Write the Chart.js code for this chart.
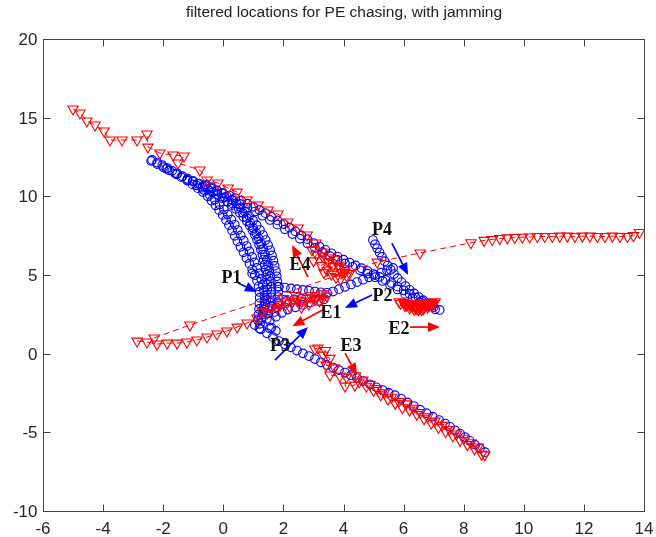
<!DOCTYPE html>
<html>
<head>
<meta charset="utf-8">
<script src="https://cdn.jsdelivr.net/npm/chart.js@4.4.1/dist/chart.umd.min.js"></script>
<style>
  html, body { margin: 0; padding: 0; background: #fff; }
  #chart { display: block; }
</style>
</head>
<body>
<canvas id="chart" width="656" height="537"></canvas>
<script>
// ==================== Data ====================
const titleText = "filtered locations for PE chasing, with jamming";
const xTicks = [-6, -4, -2, 0, 2, 4, 6, 8, 10, 12, 14];
const yTicks = [-10, -5, 0, 5, 10, 15, 20];

// pursuers (blue circles)
const p1Left = [[-2.40,12.25],[-2.2,12.05],[-2.0,11.85],[-1.8,11.65],[-1.6,11.45],[-1.4,11.22],[-1.2,11.0],[-1.02,10.76],[-0.85,10.52],[-0.68,10.27],[-0.52,10.0],[-0.39,9.72],[-0.26,9.43],[-0.14,9.13],[-0.02,8.82],[0.09,8.5],[0.19,8.17],[0.29,7.83],[0.38,7.49],[0.47,7.14],[0.57,6.79],[0.67,6.44],[0.77,6.08],[0.87,5.72],[0.96,5.36],[1.05,5.0],[1.12,4.64],[1.17,4.28],[1.2,3.92],[1.21,3.56],[1.2,3.2],[1.19,2.84],[1.17,2.48],[1.15,2.12]];
const p1InnerL = [[-1.9,11.75],[-1.55,11.4],[-1.2,11.05],[-0.9,10.7],[-0.65,10.4],[-0.45,10.1],[-0.28,9.8],[-0.12,9.48],[0.02,9.16],[0.15,8.84],[0.27,8.52],[0.38,8.19],[0.48,7.86],[0.58,7.52],[0.68,7.18],[0.78,6.84],[0.87,6.5],[0.96,6.15],[1.04,5.8],[1.12,5.45],[1.2,5.1],[1.26,4.75],[1.31,4.4],[1.35,4.05],[1.37,3.7],[1.37,3.35],[1.35,3.0],[1.32,2.65],[1.28,2.3]];
const p1Mid = [[-2.37,12.31],[-2.20,12.15],[-2.03,11.98],[-1.86,11.80],[-1.70,11.62],[-1.53,11.45],[-1.36,11.28],[-1.19,11.12],[-1.02,10.96],[-0.85,10.80],[-0.68,10.63],[-0.51,10.46],[-0.34,10.28],[-0.18,10.08],[-0.02,9.88],[0.14,9.66],[0.28,9.44],[0.42,9.20],[0.55,8.96],[0.67,8.70],[0.78,8.43],[0.88,8.15],[0.97,7.86],[1.05,7.56],[1.12,7.25],[1.19,6.94],[1.25,6.62],[1.30,6.30],[1.34,5.98],[1.38,5.66],[1.41,5.34],[1.43,5.02],[1.45,4.70],[1.46,4.38],[1.46,4.06],[1.45,3.74],[1.43,3.42],[1.40,3.10],[1.36,2.80],[1.31,2.50],[1.26,2.20],[1.22,1.90],[1.20,1.60]];
const p1InnerR = [[0.3,9.55],[0.5,9.25],[0.65,8.95],[0.78,8.62],[0.9,8.3],[1.0,7.98],[1.1,7.65],[1.18,7.32],[1.26,6.98],[1.33,6.64],[1.39,6.3],[1.45,5.96],[1.49,5.62],[1.53,5.28],[1.56,4.94],[1.58,4.6],[1.6,4.26],[1.6,3.92],[1.59,3.58],[1.57,3.24],[1.54,2.9],[1.5,2.56],[1.45,2.22]];
const p1Right = [[-0.60,10.75],[-0.40,10.58],[-0.22,10.40],[-0.05,10.20],[0.12,10.00],[0.28,9.78],[0.44,9.55],[0.58,9.30],[0.72,9.04],[0.86,8.76],[0.99,8.47],[1.11,8.17],[1.22,7.86],[1.32,7.54],[1.41,7.22],[1.49,6.90],[1.56,6.57],[1.62,6.24],[1.67,5.91],[1.71,5.58],[1.75,5.25],[1.78,4.92],[1.8,4.59],[1.82,4.26],[1.83,3.93],[1.82,3.60],[1.8,3.27],[1.76,2.95],[1.71,2.65]];
const pUpper = [[-1.0,10.96],[-0.8,10.81],[-0.6,10.66],[-0.4,10.50],[-0.2,10.35],[0.0,10.20],[0.2,10.05],[0.4,9.89],[0.6,9.73],[0.8,9.53],[1.0,9.33],[1.2,9.13],[1.4,8.93],[1.6,8.70],[1.8,8.47],[2.0,8.24],[2.2,8.01],[2.4,7.77],[2.6,7.52],[2.8,7.28],[3.0,7.03],[3.2,6.81],[3.4,6.60],[3.6,6.38],[3.8,6.17],[4.0,5.97],[4.2,5.79],[4.4,5.61],[4.6,5.43],[4.8,5.25],[5.0,5.06],[5.2,4.88],[5.4,4.69],[5.6,4.49],[5.8,4.26],[6.0,4.03],[6.2,3.80],[6.4,3.57],[6.6,3.35],[6.8,3.14],[7.0,2.96],[7.2,2.78]];
const pUpper2 = [[-0.7,10.55],[-0.45,10.35],[-0.2,10.15],[0.05,9.95],[0.3,9.75],[0.55,9.52],[0.8,9.28],[1.05,9.03],[1.3,8.77],[1.55,8.5],[1.8,8.2],[2.05,7.9],[2.3,7.6],[2.55,7.3],[2.8,7.0],[3.05,6.72],[3.3,6.45],[3.55,6.2],[3.8,5.96],[4.05,5.74],[4.3,5.52],[4.55,5.3],[4.8,5.08],[5.05,4.86],[5.3,4.62],[5.55,4.36],[5.8,4.08],[6.05,3.8],[6.3,3.52],[6.55,3.26],[6.8,3.02],[7.05,2.82]];
const p4Track = [[4.98,7.22],[5.05,6.95],[5.12,6.70],[5.20,6.43],[5.28,6.15],[5.37,5.88],[5.47,5.60],[5.57,5.33],[5.68,5.06],[5.80,4.80],[5.93,4.55],[6.06,4.30],[6.20,4.06],[6.35,3.83],[6.50,3.60],[6.65,3.40],[6.80,3.22],[6.95,3.05]];
const p2Track = [[1.85,4.25],[2.05,4.2],[2.25,4.15],[2.45,4.1],[2.65,4.05],[2.85,4.0],[3.05,3.95],[3.25,3.9],[3.45,3.87],[3.65,3.95],[3.85,4.1],[4.05,4.25],[4.25,4.4],[4.45,4.55],[4.65,4.7],[4.85,4.85],[5.05,5.0],[5.25,5.15],[5.45,5.3],[5.65,5.45]];
const p3Track = [[1.05,1.82],[1.25,1.55],[1.45,1.3],[1.65,1.05],[1.85,0.8],[2.05,0.6],[2.25,0.4],[2.45,0.2],[2.65,0.02],[2.85,-0.15],[3.05,-0.34],[3.25,-0.55],[3.45,-0.72],[3.65,-0.88],[3.85,-1.04],[4.05,-1.2],[4.25,-1.37],[4.45,-1.55],[4.65,-1.74],[4.88,-1.95],[5.1,-2.14],[5.3,-2.31],[5.5,-2.48],[5.71,-2.64],[5.92,-2.87],[6.13,-3.1],[6.34,-3.33],[6.55,-3.56],[6.76,-3.78],[6.97,-4.0],[7.18,-4.22],[7.38,-4.44],[7.55,-4.65],[7.71,-4.87],[7.88,-5.08],[8.04,-5.3],[8.2,-5.54],[8.37,-5.78],[8.54,-6.02],[8.71,-6.26]];
const pJunction = [[1.55,2.1],[1.75,2.35],[1.95,2.6],[2.15,2.8],[2.4,2.95],[2.65,3.1],[2.9,3.25],[3.15,3.35],[3.35,3.45],[1.6,3.0],[1.85,3.2],[2.1,3.35],[2.35,3.45],[2.6,3.5],[1.55,1.6],[1.75,1.45],[1.6,1.65],[0.96,5.1]];

// evaders (red triangles)
const e4Track = [[-5.0,15.55],[-4.77,15.30],[-4.54,14.79],[-4.27,14.53],[-3.97,14.15],[-3.77,13.58],[-3.37,13.58],[-2.87,13.58],[-2.54,13.96],[-2.51,13.13],[-2.11,12.75],[-1.67,12.63],[-1.31,12.56],[-1.51,12.12],[-0.78,11.67],[-0.54,11.04],[-0.18,10.85],[0.16,10.53],[0.46,10.27],[0.79,9.77],[1.16,9.45],[1.49,9.13],[1.82,8.88],[2.15,8.37],[2.49,7.99],[2.79,7.54],[3.08,7.03],[3.28,6.46],[3.55,6.08],[3.82,5.63],[4.05,5.19],[3.3,6.2],[3.5,5.85],[3.25,5.6],[3.65,5.55],[3.45,5.3],[3.85,5.45],[3.95,5.15],[3.6,5.05],[4.1,4.95],[3.35,5.15],[3.75,4.85],[4.05,5.4],[2.95,6.6],[3.1,6.3],[3.0,5.9],[3.9,4.75],[4.2,5.1],[3.7,6.0]];
const e1Track = [[-2.87,0.80],[-2.54,0.74],[-2.21,0.61],[-1.87,0.67],[-1.54,0.67],[-1.21,0.74],[-0.88,0.87],[-0.54,1.06],[-0.21,1.25],[0.12,1.44],[0.46,1.69],[0.79,1.95],[1.12,2.26],[1.46,2.58],[1.79,2.90],[2.12,3.22],[2.45,3.41],[2.79,3.54],[3.12,3.60],[3.45,3.66],[3.2,3.35],[2.85,3.15],[3.3,3.8],[2.6,2.95],[3.05,3.45],[1.6,2.9],[1.9,3.1],[2.3,3.3],[2.6,3.35],[2.0,3.5],[2.4,3.7],[2.9,3.7],[3.3,3.5],[1.3,2.7],[2.2,3.0]];
const e2Track = [[5.85,3.3],[6.0,3.25],[6.15,3.2],[6.3,3.15],[6.45,3.15],[6.6,3.2],[6.75,3.22],[6.9,3.25],[7.05,3.3],[6.95,3.1],[6.8,2.95],[6.65,2.85],[6.5,2.8],[6.35,2.82],[6.2,2.9],[6.05,3.05],[6.3,3.0],[6.55,3.0],[6.8,3.1],[5.9,3.2],[6.1,3.1],[6.25,3.05],[6.4,3.0],[6.6,3.05],[6.75,3.08],[6.95,3.2],[6.4,2.9],[6.55,2.9],[6.7,2.95],[6.2,3.1],[6.45,2.85],[6.6,2.8],[6.85,3.05],[7.0,3.2],[6.05,3.2]];
const e3Track = [[3.05,0.30],[3.15,0.36],[3.40,0.20],[3.32,-0.09],[3.55,-0.3],[3.42,-0.73],[3.7,-0.9],[3.55,-1.36],[3.88,-1.43],[4.1,-1.5],[4.05,-2.06],[4.38,-2.0],[4.40,-1.40],[4.52,-1.80],[4.64,-1.67],[4.76,-2.07],[4.88,-1.95],[5.00,-2.34],[5.12,-2.22],[5.24,-2.62],[5.36,-2.49],[5.48,-2.89],[5.60,-2.77],[5.72,-3.16],[5.84,-3.04],[5.96,-3.44],[6.08,-3.19],[6.20,-3.59],[6.32,-3.47],[6.44,-3.86],[6.56,-3.74],[6.68,-4.14],[6.80,-4.02],[6.92,-4.41],[7.04,-4.29],[7.16,-4.69],[7.28,-4.56],[7.40,-4.96],[7.52,-4.84],[7.64,-5.23],[7.76,-5.11],[7.88,-5.51],[8.00,-5.38],[8.12,-5.78],[8.24,-5.66],[8.36,-6.05],[8.48,-5.93],[8.60,-6.40],[8.70,-6.43]];
const escapeTrack = [[-2.30,1.00],[-1.11,1.82],[5.12,5.82],[6.55,6.40],[8.24,7.05],[8.68,7.20],[8.95,7.26],[9.2,7.32],[9.45,7.36],[9.7,7.38],[9.95,7.4],[10.2,7.42],[10.45,7.45],[10.7,7.45],[10.95,7.45],[11.2,7.47],[11.45,7.47],[11.7,7.45],[11.95,7.47],[12.2,7.47],[12.45,7.45],[12.7,7.45],[12.95,7.47],[13.2,7.45],[13.45,7.45],[13.65,7.5],[13.85,7.7]];

// heading arrows and their labels
const arrowNames = ["P1", "P2", "P3", "P4", "E1", "E2", "E3", "E4"];
const arrowFrom = [[0.49,4.49],[4.95,3.73],[1.72,-0.41],[5.61,7.03],[3.38,2.85],[6.21,1.69],[4.05,0.04],[2.82,4.87]];
const arrowTo = [[1.12,3.92],[4.05,2.90],[2.82,1.69],[6.15,5.0],[2.30,1.75],[7.21,1.69],[4.45,-1.36],[2.29,6.90]];
const labelPos = [[0.27,4.77],[5.30,3.63],[1.89,0.45],[5.28,7.86],[3.58,2.55],[5.85,1.53],[4.25,0.45],[2.55,5.63]];

// ==================== Helpers ====================
const BLUE = "#0000ff";
const RED = "#ff0000";
const pts = arr => arr.map(([x, y]) => ({ x, y }));

function redTrack(label, data, withLine) {
  return {
    label: label,
    data: pts(data),
    showLine: withLine,
    borderColor: RED,
    borderWidth: 1,
    borderDash: [6, 4],
    pointStyle: "triangle",
    rotation: 180,
    pointRadius: 6,
    pointBorderWidth: 1.1,
    pointBorderColor: RED,
    pointBackgroundColor: "rgba(0,0,0,0)"
  };
}

function blueTrack(label, data) {
  return {
    label: label,
    data: pts(data),
    showLine: false,
    pointStyle: "circle",
    pointRadius: 4.3,
    pointBorderWidth: 1.15,
    pointBorderColor: BLUE,
    pointBackgroundColor: "rgba(0,0,0,0)"
  };
}

function drawArrow(ctx, x1, y1, x2, y2, color) {
  const ang = Math.atan2(y2 - y1, x2 - x1);
  const head = 12, half = 5;
  const bx = x2 - head * Math.cos(ang), by = y2 - head * Math.sin(ang);
  ctx.save();
  ctx.strokeStyle = color;
  ctx.fillStyle = color;
  ctx.lineWidth = 1.7;
  ctx.beginPath();
  ctx.moveTo(x1, y1);
  ctx.lineTo(bx, by);
  ctx.stroke();
  ctx.beginPath();
  ctx.moveTo(x2, y2);
  ctx.lineTo(bx + half * Math.sin(ang), by - half * Math.cos(ang));
  ctx.lineTo(bx - half * Math.sin(ang), by + half * Math.cos(ang));
  ctx.closePath();
  ctx.fill();
  ctx.restore();
}

// ==================== Frame / annotation plugin ====================
const framePlugin = {
  id: "frame",
  beforeDraw(chart) {
    const ctx = chart.ctx;
    ctx.save();
    ctx.fillStyle = "#ffffff";
    ctx.fillRect(0, 0, chart.width, chart.height);
    ctx.restore();
  },
  afterDatasetsDraw(chart) {
    const ctx = chart.ctx;
    const xs = chart.scales.x, ys = chart.scales.y;
    arrowNames.forEach((name, i) => {
      const color = name[0] === "P" ? BLUE : RED;
      drawArrow(ctx,
        xs.getPixelForValue(arrowFrom[i][0]), ys.getPixelForValue(arrowFrom[i][1]),
        xs.getPixelForValue(arrowTo[i][0]), ys.getPixelForValue(arrowTo[i][1]), color);
    });
    ctx.save();
    ctx.fillStyle = "#111";
    ctx.font = 'bold 18px "Liberation Serif", "Times New Roman", serif';
    ctx.textAlign = "center";
    ctx.textBaseline = "middle";
    arrowNames.forEach((name, i) => {
      ctx.fillText(name, xs.getPixelForValue(labelPos[i][0]), ys.getPixelForValue(labelPos[i][1]));
    });
    ctx.restore();
  },
  afterDraw(chart) {
    const ctx = chart.ctx;
    const a = chart.chartArea;
    const xs = chart.scales.x, ys = chart.scales.y;
    const L = Math.round(a.left) + 0.5, R = Math.round(a.right) + 0.5;
    const T = Math.round(a.top) + 0.5, B = Math.round(a.bottom) + 0.5;
    const tick = 7;
    ctx.save();
    ctx.strokeStyle = "#444";
    ctx.lineWidth = 1;
    ctx.strokeRect(L, T, R - L, B - T);
    ctx.beginPath();
    xTicks.forEach(v => {
      const px = Math.round(xs.getPixelForValue(v)) + 0.5;
      ctx.moveTo(px, B); ctx.lineTo(px, B - tick);
      ctx.moveTo(px, T); ctx.lineTo(px, T + tick);
    });
    yTicks.forEach(v => {
      const py = Math.round(ys.getPixelForValue(v)) + 0.5;
      ctx.moveTo(L, py); ctx.lineTo(L + tick, py);
      ctx.moveTo(R, py); ctx.lineTo(R - tick, py);
    });
    ctx.stroke();

    ctx.fillStyle = "#262626";
    ctx.font = '17px "Liberation Sans", Arial, sans-serif';
    ctx.textBaseline = "alphabetic";
    ctx.textAlign = "center";
    xTicks.forEach(v => ctx.fillText(String(v), xs.getPixelForValue(v), B + 22));
    ctx.textAlign = "right";
    yTicks.forEach(v => ctx.fillText(String(v), L - 6, ys.getPixelForValue(v) + 6));

    ctx.font = '15.5px "Liberation Sans", Arial, sans-serif';
    ctx.textAlign = "center";
    ctx.fillStyle = "#222";
    ctx.fillText(titleText, (L + R) / 2, 17);
    ctx.restore();
  }
};

// ==================== Chart ====================
const ctx = document.getElementById("chart").getContext("2d");
const chart = new Chart(ctx, {
  type: "scatter",
  data: {
    datasets: [
      redTrack("E3", e3Track, true),
      redTrack("E1", e1Track, true),
      redTrack("E4", e4Track, true),
      redTrack("E2", e2Track, true),
      redTrack("escape", escapeTrack, true),
      blueTrack("P3", p3Track),
      blueTrack("P2", p2Track),
      blueTrack("P4", p4Track),
      blueTrack("upper", pUpper),
      blueTrack("upper 2", pUpper2),
      blueTrack("P1 right", p1Right),
      blueTrack("P1 inner right", p1InnerR),
      blueTrack("P1 mid", p1Mid),
      blueTrack("P1 inner left", p1InnerL),
      blueTrack("P1 left", p1Left),
      blueTrack("junction", pJunction)
    ]
  },
  options: {
    responsive: false,
    animation: false,
    events: [],
    layout: { padding: { left: 43, right: 12, top: 39, bottom: 26 } },
    plugins: {
      legend: { display: false },
      tooltip: { enabled: false },
      title: { display: false }
    },
    scales: {
      x: { type: "linear", min: -6, max: 14, display: false },
      y: { type: "linear", min: -10, max: 20, display: false }
    }
  },
  plugins: [framePlugin]
});
</script>
</body>
</html>
